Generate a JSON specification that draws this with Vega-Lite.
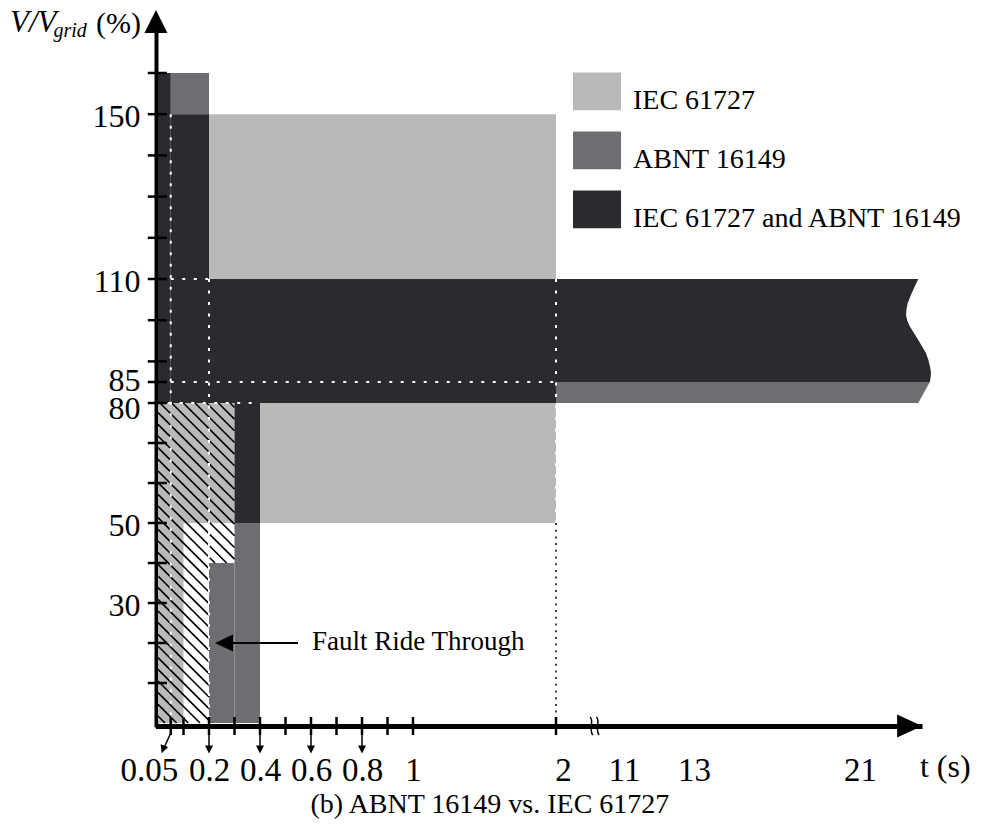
{
  "$schema": "https://vega.github.io/schema/vega-lite/v6.json",
  "width": 824,
  "height": 723,
  "autosize": "none",
  "padding": {"left": 158, "top": 0, "right": 0, "bottom": 106},
  "background": "white",
  "config": {"view": {"stroke": null}, "font": "Liberation Serif"},
  "datasets": {
    "zones": [
      {"zone": "IEC 61727", "t": 0.2, "t2": 2, "v": 110, "v2": 150},
      {"zone": "IEC 61727", "t": 0.4, "t2": 2, "v": 50, "v2": 80},
      {"zone": "IEC 61727", "t": 0, "t2": 0.3, "v": 50, "v2": 80},
      {"zone": "IEC 61727", "t": 0, "t2": 0.1, "v": 0, "v2": 50},
      {"zone": "ABNT 16149", "t": 0.05, "t2": 0.2, "v": 150, "v2": 160},
      {"zone": "ABNT 16149", "t": 0.3, "t2": 0.4, "v": 0, "v2": 50},
      {"zone": "ABNT 16149", "t": 0.2, "t2": 0.3, "v": 0, "v2": 40},
      {"zone": "IEC 61727 and ABNT 16149", "t": 0, "t2": 0.05, "v": 80, "v2": 160},
      {"zone": "IEC 61727 and ABNT 16149", "t": 0.05, "t2": 0.2, "v": 80, "v2": 150},
      {"zone": "IEC 61727 and ABNT 16149", "t": 0.2, "t2": 2, "v": 80, "v2": 110},
      {"zone": "IEC 61727 and ABNT 16149", "t": 0.3, "t2": 0.4, "v": 50, "v2": 80}
    ],
    "bandOutline": [
      {"zone": "ABNT 16149", "k": 1, "t": 2, "v": 80},
      {"zone": "ABNT 16149", "k": 2, "t": 23.82, "v": 80},
      {"zone": "ABNT 16149", "k": 3, "t": 24.38, "v": 85},
      {"zone": "ABNT 16149", "k": 4, "t": 2, "v": 85},
      {"zone": "IEC 61727 and ABNT 16149", "k": 1, "t": 2, "v": 85},
      {"zone": "IEC 61727 and ABNT 16149", "k": 2, "t": 24.38, "v": 85},
      {"zone": "IEC 61727 and ABNT 16149", "k": 3, "t": 24.42, "v": 86.29},
      {"zone": "IEC 61727 and ABNT 16149", "k": 4, "t": 24.43, "v": 87.43},
      {"zone": "IEC 61727 and ABNT 16149", "k": 5, "t": 24.39, "v": 88.71},
      {"zone": "IEC 61727 and ABNT 16149", "k": 6, "t": 24.31, "v": 90.34},
      {"zone": "IEC 61727 and ABNT 16149", "k": 7, "t": 24.19, "v": 92.04},
      {"zone": "IEC 61727 and ABNT 16149", "k": 8, "t": 24.02, "v": 93.5},
      {"zone": "IEC 61727 and ABNT 16149", "k": 9, "t": 23.82, "v": 95.19},
      {"zone": "IEC 61727 and ABNT 16149", "k": 10, "t": 23.61, "v": 96.89},
      {"zone": "IEC 61727 and ABNT 16149", "k": 11, "t": 23.42, "v": 98.42},
      {"zone": "IEC 61727 and ABNT 16149", "k": 12, "t": 23.29, "v": 99.81},
      {"zone": "IEC 61727 and ABNT 16149", "k": 13, "t": 23.23, "v": 101.26},
      {"zone": "IEC 61727 and ABNT 16149", "k": 14, "t": 23.25, "v": 102.72},
      {"zone": "IEC 61727 and ABNT 16149", "k": 15, "t": 23.31, "v": 104.17},
      {"zone": "IEC 61727 and ABNT 16149", "k": 16, "t": 23.5, "v": 106.53},
      {"zone": "IEC 61727 and ABNT 16149", "k": 17, "t": 23.66, "v": 108.3},
      {"zone": "IEC 61727 and ABNT 16149", "k": 18, "t": 23.82, "v": 110},
      {"zone": "IEC 61727 and ABNT 16149", "k": 19, "t": 2, "v": 110}
    ],
    "hatch": [
      {"t": 0.2824, "v": 80, "t2": 0.3, "v2": 78.88},
      {"t": 0.2366, "v": 80, "t2": 0.3, "v2": 75.96},
      {"t": 0.1909, "v": 80, "t2": 0.3, "v2": 73.05},
      {"t": 0.1451, "v": 80, "t2": 0.3, "v2": 70.13},
      {"t": 0.0993, "v": 80, "t2": 0.3, "v2": 67.21},
      {"t": 0.0536, "v": 80, "t2": 0.3, "v2": 64.3},
      {"t": 0.0078, "v": 80, "t2": 0.3, "v2": 61.38},
      {"t": 0, "v": 77.58, "t2": 0.3, "v2": 58.46},
      {"t": 0, "v": 74.67, "t2": 0.3, "v2": 55.55},
      {"t": 0, "v": 71.75, "t2": 0.3, "v2": 52.63},
      {"t": 0, "v": 68.83, "t2": 0.3, "v2": 49.71},
      {"t": 0, "v": 65.92, "t2": 0.3, "v2": 46.8},
      {"t": 0, "v": 63.0, "t2": 0.3, "v2": 43.88},
      {"t": 0, "v": 60.08, "t2": 0.3, "v2": 40.96},
      {"t": 0, "v": 57.16, "t2": 0.2692, "v2": 40},
      {"t": 0, "v": 54.25, "t2": 0.2235, "v2": 40},
      {"t": 0, "v": 51.33, "t2": 0.2, "v2": 38.58},
      {"t": 0, "v": 48.41, "t2": 0.2, "v2": 35.66},
      {"t": 0, "v": 45.5, "t2": 0.2, "v2": 32.75},
      {"t": 0, "v": 42.58, "t2": 0.2, "v2": 29.83},
      {"t": 0, "v": 39.66, "t2": 0.2, "v2": 26.91},
      {"t": 0, "v": 36.75, "t2": 0.2, "v2": 24.0},
      {"t": 0, "v": 33.83, "t2": 0.2, "v2": 21.08},
      {"t": 0, "v": 30.91, "t2": 0.2, "v2": 18.16},
      {"t": 0, "v": 28.0, "t2": 0.2, "v2": 15.25},
      {"t": 0, "v": 25.08, "t2": 0.2, "v2": 12.33},
      {"t": 0, "v": 22.16, "t2": 0.2, "v2": 9.41},
      {"t": 0, "v": 19.25, "t2": 0.2, "v2": 6.5},
      {"t": 0, "v": 16.33, "t2": 0.2, "v2": 3.58},
      {"t": 0, "v": 13.41, "t2": 0.2, "v2": 0.66},
      {"t": 0, "v": 10.5, "t2": 0.1647, "v2": 0},
      {"t": 0, "v": 7.58, "t2": 0.1189, "v2": 0},
      {"t": 0, "v": 4.66, "t2": 0.0731, "v2": 0},
      {"t": 0, "v": 1.75, "t2": 0.0275, "v2": 0}
    ],
    "whiteGuides": [
      {"t": 0.05, "t2": 0.05, "v": 150, "v2": 0},
      {"t": 0.2, "t2": 0.2, "v": 110, "v2": 0},
      {"t": 0.05, "t2": 0.2, "v": 110, "v2": 110},
      {"t": 0.05, "t2": 2, "v": 85, "v2": 85},
      {"t": 0.04, "t2": 0.39, "v": 80, "v2": 80},
      {"t": 2, "t2": 2, "v": 110, "v2": 50}
    ],
    "blackGuides": [
      {"t": 2, "t2": 2, "v": 50, "v2": 0}
    ],
    "yticks": [
      {"v": 10}, {"v": 20}, {"v": 30}, {"v": 40}, {"v": 50}, {"v": 60}, {"v": 70}, {"v": 80},
      {"v": 85}, {"v": 90}, {"v": 100}, {"v": 110}, {"v": 120}, {"v": 130}, {"v": 140}, {"v": 150}, {"v": 160}
    ],
    "xticks": [
      {"t": 0.05}, {"t": 0.1}, {"t": 0.2}, {"t": 0.3}, {"t": 0.4}, {"t": 0.5}, {"t": 0.6},
      {"t": 0.7}, {"t": 0.8}, {"t": 0.9}, {"t": 1}, {"t": 2}
    ],
    "pointers": [
      {"t": 0.05, "t2": 0.0235, "v": -2.5, "v2": -6.25},
      {"t": 0.2, "t2": 0.2, "v": -3, "v2": -6},
      {"t": 0.4, "t2": 0.4, "v": -3, "v2": -6},
      {"t": 0.6, "t2": 0.6, "v": -3, "v2": -6},
      {"t": 0.8, "t2": 0.8, "v": -3, "v2": -6}
    ],
    "pointerHeads": [
      {"t": 0.2}, {"t": 0.4}, {"t": 0.6}, {"t": 0.8}
    ]
  },
  "layer": [
    {
      "data": {"name": "zones"},
      "mark": {"type": "rect", "strokeWidth": 0},
      "encoding": {
        "x": {
          "field": "t", "type": "quantitative", "title": null,
          "scale": {"type": "linear", "domain": [-0.01, 0, 1, 2, 11, 13, 21, 24], "range": [-2.55, 0, 255, 398, 466, 536, 702, 764], "nice": false, "zero": false},
          "axis": {
            "values": [0.05, 0.2, 0.4, 0.6, 0.8, 1, 2, 11, 13, 21],
            "format": "~r",
            "ticks": false, "grid": false,
            "domainColor": "black", "domainWidth": 5, "offset": 3,
            "labelFont": "Liberation Serif", "labelFontSize": 33, "labelColor": "black",
            "labelPadding": 28, "labelOverlap": false, "labelFlush": false, "labelBound": false,
            "labelAlign": {"condition": {"test": "datum.value == 0.05", "value": "right"}, "value": "center"},
            "labelOffset": {"condition": {"test": "datum.value == 0.05 || datum.value == 2", "value": 7}, "value": 0}
          }
        },
        "x2": {"field": "t2"},
        "y": {
          "field": "v", "type": "quantitative", "title": null,
          "scale": {"type": "linear", "domain": [-1, 0, 80, 85, 160, 173], "range": [727, 723, 403, 382, 73, 19.5], "nice": false, "zero": false},
          "axis": {
            "values": [30, 50, 80, 85, 110, 150],
            "format": "~r",
            "ticks": false, "grid": false,
            "domainColor": "black", "domainWidth": 4, "offset": 2,
            "labelFont": "Liberation Serif", "labelFontSize": 32, "labelColor": "black",
            "labelPadding": 16, "labelOverlap": false, "labelFlush": false, "labelBound": false,
            "labelOffset": {"condition": [{"test": "datum.value == 80", "value": 5}, {"test": "datum.value == 85", "value": -2}], "value": 2}
          }
        },
        "y2": {"field": "v2"},
        "fill": {
          "field": "zone", "type": "nominal",
          "scale": {"domain": ["IEC 61727", "ABNT 16149", "IEC 61727 and ABNT 16149"], "range": ["#bab8b8", "#6d6e72", "#2b2a2f"]},
          "legend": {
            "title": null, "orient": "none", "legendX": 415, "legendY": 77,
            "symbolType": "M-1,-1.19L1,-1.19L1,0.39L-1,0.39Z", "symbolSize": 2304, "symbolStrokeWidth": 0,
            "labelFont": "Liberation Serif", "labelFontSize": 28, "labelColor": "black", "labelOffset": 12,
            "labelLimit": 600, "rowPadding": 16, "padding": 0
          }
        }
      }
    },
    {
      "data": {"name": "bandOutline"},
      "mark": {"type": "line", "filled": true, "strokeWidth": 0, "interpolate": "linear"},
      "encoding": {
        "x": {"field": "t", "type": "quantitative", "title": null},
        "y": {"field": "v", "type": "quantitative", "title": null},
        "fill": {"field": "zone", "type": "nominal"},
        "order": {"field": "k", "type": "quantitative"}
      }
    },
    {
      "data": {"name": "hatch"},
      "mark": {"type": "rule", "color": "black", "strokeWidth": 1.6},
      "encoding": {
        "x": {"field": "t", "type": "quantitative", "title": null},
        "x2": {"field": "t2"},
        "y": {"field": "v", "type": "quantitative", "title": null},
        "y2": {"field": "v2"}
      }
    },
    {
      "data": {"name": "whiteGuides"},
      "mark": {"type": "rule", "color": "white", "strokeWidth": 2, "strokeDash": [3, 8.5]},
      "encoding": {
        "x": {"field": "t", "type": "quantitative", "title": null},
        "x2": {"field": "t2"},
        "y": {"field": "v", "type": "quantitative", "title": null},
        "y2": {"field": "v2"}
      }
    },
    {
      "data": {"name": "blackGuides"},
      "mark": {"type": "rule", "color": "black", "strokeWidth": 1.5, "strokeDash": [2, 4.7]},
      "encoding": {
        "x": {"field": "t", "type": "quantitative", "title": null},
        "x2": {"field": "t2"},
        "y": {"field": "v", "type": "quantitative", "title": null},
        "y2": {"field": "v2"}
      }
    },
    {
      "data": {"name": "yticks"},
      "mark": {"type": "rule", "color": "black", "strokeWidth": 2.5},
      "encoding": {
        "y": {"field": "v", "type": "quantitative", "title": null},
        "x": {"datum": -0.04},
        "x2": {"datum": 0.035}
      }
    },
    {
      "data": {"name": "xticks"},
      "mark": {"type": "rule", "color": "black", "strokeWidth": 2.5},
      "encoding": {
        "x": {"field": "t", "type": "quantitative", "title": null},
        "y": {"datum": -3},
        "y2": {"datum": 1.5}
      }
    },
    {
      "data": {"name": "pointers"},
      "mark": {"type": "rule", "color": "black", "strokeWidth": 1.5},
      "encoding": {
        "x": {"field": "t", "type": "quantitative", "title": null},
        "x2": {"field": "t2"},
        "y": {"field": "v", "type": "quantitative", "title": null},
        "y2": {"field": "v2"}
      }
    },
    {
      "data": {"name": "pointerHeads"},
      "mark": {"type": "point", "shape": "M-1,-1L1,-1L0,1Z", "size": 64, "filled": true, "color": "black", "opacity": 1, "strokeWidth": 0},
      "encoding": {
        "x": {"field": "t", "type": "quantitative", "title": null},
        "y": {"datum": -6.6}
      }
    },
    {
      "data": {"values": [{}]},
      "mark": {"type": "point", "shape": "M-1,-1L1,-1L0,1Z", "size": 64, "filled": true, "color": "black", "opacity": 1, "strokeWidth": 0, "angle": 20},
      "encoding": {
        "x": {"datum": 0.0196},
        "y": {"datum": -6.6}
      }
    },
    {
      "data": {"values": [{}]},
      "mark": {"type": "point", "shape": "M0,-1L1,1L-1,1Z", "size": 529, "filled": true, "color": "black", "opacity": 1, "strokeWidth": 0},
      "encoding": {
        "x": {"datum": -0.008},
        "y": {"datum": 172.5}
      }
    },
    {
      "data": {"values": [{}]},
      "mark": {"type": "point", "shape": "M1,0L-1,-0.92L-1,0.92Z", "size": 625, "filled": true, "color": "black", "opacity": 1, "strokeWidth": 0},
      "encoding": {
        "x": {"datum": 23.4},
        "y": {"datum": -0.75}
      }
    },
    {
      "data": {"values": [{}]},
      "mark": {"type": "point", "shape": "M-0.55,-1C-0.05,-0.6,-0.75,0.3,-0.25,1M0.15,-1C0.65,-0.6,-0.05,0.3,0.45,1", "size": 324, "filled": false, "color": "black", "opacity": 1, "strokeWidth": 1.5},
      "encoding": {
        "x": {"datum": 7.16},
        "y": {"datum": -0.75}
      }
    },
    {
      "data": {"values": [{}]},
      "mark": {"type": "rule", "color": "black", "strokeWidth": 2},
      "encoding": {
        "x": {"datum": 0.29},
        "x2": {"datum": 0.549},
        "y": {"datum": 20}
      }
    },
    {
      "data": {"values": [{}]},
      "mark": {"type": "point", "shape": "M-1,0L1,-0.95L1,0.95Z", "size": 324, "filled": true, "color": "black", "opacity": 1, "strokeWidth": 0},
      "encoding": {
        "x": {"datum": 0.2588},
        "y": {"datum": 20}
      }
    },
    {
      "data": {"values": [{"label": "Fault Ride Through", "t": 0.604, "v": 18.25}]},
      "mark": {"type": "text", "font": "Liberation Serif", "fontSize": 27, "align": "left", "baseline": "alphabetic", "color": "black"},
      "encoding": {
        "x": {"field": "t", "type": "quantitative", "title": null},
        "y": {"field": "v", "type": "quantitative", "title": null},
        "text": {"field": "label"}
      }
    },
    {
      "data": {"values": [{"label": "t (s)", "t": 23.9, "v": -13.5}]},
      "mark": {"type": "text", "font": "Liberation Serif", "fontSize": 32, "align": "left", "baseline": "alphabetic", "color": "black"},
      "encoding": {
        "x": {"field": "t", "type": "quantitative", "title": null},
        "y": {"field": "v", "type": "quantitative", "title": null},
        "text": {"field": "label"}
      }
    },
    {
      "data": {"values": [{"label": "V/V", "t": -0.5804, "v": 169.96}]},
      "mark": {"type": "text", "font": "Liberation Serif", "fontSize": 31, "fontStyle": "italic", "align": "left", "baseline": "alphabetic", "color": "black"},
      "encoding": {
        "x": {"field": "t", "type": "quantitative", "title": null},
        "y": {"field": "v", "type": "quantitative", "title": null},
        "text": {"field": "label"}
      }
    },
    {
      "data": {"values": [{"label": "grid", "t": -0.41, "v": 168.63}]},
      "mark": {"type": "text", "font": "Liberation Serif", "fontSize": 20, "fontStyle": "italic", "align": "left", "baseline": "alphabetic", "color": "black"},
      "encoding": {
        "x": {"field": "t", "type": "quantitative", "title": null},
        "y": {"field": "v", "type": "quantitative", "title": null},
        "text": {"field": "label"}
      }
    },
    {
      "data": {"values": [{"label": "(%)", "t": -0.0667, "v": 169.72}]},
      "mark": {"type": "text", "font": "Liberation Serif", "fontSize": 30, "align": "right", "baseline": "alphabetic", "color": "black"},
      "encoding": {
        "x": {"field": "t", "type": "quantitative", "title": null},
        "y": {"field": "v", "type": "quantitative", "title": null},
        "text": {"field": "label"}
      }
    },
    {
      "data": {"values": [{"label": "(b) ABNT 16149 vs. IEC 61727", "t": 1.538, "v": -22.5}]},
      "mark": {"type": "text", "font": "Liberation Serif", "fontSize": 28, "align": "center", "baseline": "alphabetic", "color": "black"},
      "encoding": {
        "x": {"field": "t", "type": "quantitative", "title": null},
        "y": {"field": "v", "type": "quantitative", "title": null},
        "text": {"field": "label"}
      }
    }
  ]
}
